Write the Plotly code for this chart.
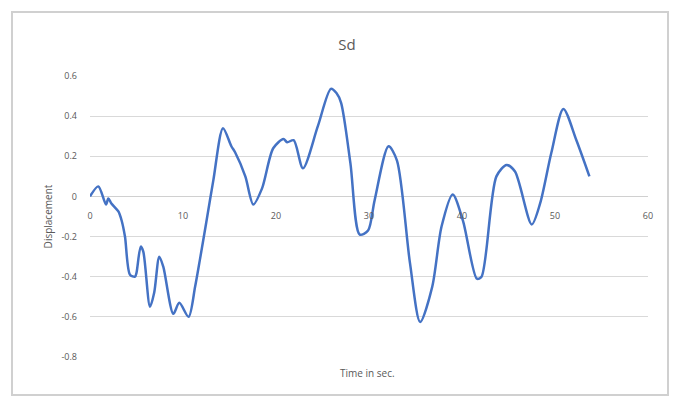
import plotly.graph_objects as go

time_s = [0, 0.9, 1.72, 1.97, 2.3, 3.05, 3.4, 3.76, 4.3, 4.84, 5.0, 5.45, 5.73, 6.45, 6.9,
          7.45, 7.88, 8.96, 9.6, 10.6, 11.3, 11.8, 12.5, 13.26, 14.3, 15.2, 15.6, 16.7,
          17.56, 18.5, 19.7, 20.8, 21.2, 21.9, 22.9, 24.5, 25.9, 26.5, 27.0, 28.0, 29.0,
          29.9, 30.6, 32.1, 33.0, 34.4, 35.5, 36.8, 37.8, 39.0, 40.1, 41.6, 42.1, 43.7,
          44.8, 45.7, 47.5, 48.4, 49.6, 50.9, 52.3, 53.7]
displacement = [0, 0.05, -0.04, -0.01, -0.035, -0.075, -0.12, -0.2, -0.39, -0.4, -0.38,
                -0.25, -0.275, -0.55, -0.48, -0.3, -0.35, -0.585, -0.53, -0.6, -0.45,
                -0.32, -0.13, 0.08, 0.34, 0.25, 0.22, 0.1, -0.04, 0.04, 0.24, 0.286, 0.27,
                0.28, 0.14, 0.35, 0.536, 0.515, 0.466, 0.166, -0.19, -0.17, -0.02, 0.25,
                0.18, -0.33, -0.626, -0.45, -0.15, 0.01, -0.12, -0.41, -0.4, 0.1, 0.157,
                0.124, -0.14, -0.035, 0.216, 0.436, 0.28, 0.1]

x_ticks = [0, 10, 20, 30, 40, 50, 60]
y_ticks = [-0.8, -0.6, -0.4, -0.2, 0, 0.2, 0.4, 0.6]
y_tick_labels = ["-0.8", "-0.6", "-0.4", "-0.2", "0", "0.2", "0.4", "0.6"]

font_family = "Liberation Sans Narrow, Open Sans, sans-serif"
gray = "#595959"

fig = go.Figure()
fig.add_trace(go.Scatter(
    x=time_s, y=displacement, mode="lines",
    line=dict(color="#4472C4", width=2.5, shape="spline", smoothing=0.8),
    showlegend=False,
))

fig.update_layout(
    width=672, height=397,
    margin=dict(l=82, r=32, t=68, b=48),
    paper_bgcolor="white", plot_bgcolor="white",
    title=dict(text="Sd", x=(347 - 8) / 672, xanchor="center", y=1 - (45 - 8) / 397,
               yanchor="middle", xref="container", yref="container",
               font=dict(family=font_family, size=15, color=gray)),
    xaxis=dict(
        range=[0, 60], tickvals=x_ticks, showgrid=False, zeroline=False,
        showline=False, anchor="free", position=(357 - 196) / 281,
        ticks="", ticklabelstandoff=13, automargin=False,
        tickfont=dict(family=font_family, size=9, color=gray),
    ),
    yaxis=dict(
        range=[-0.8, 0.6], tickvals=y_ticks, ticktext=y_tick_labels,
        showgrid=True, gridcolor="#d9d9d9", gridwidth=1, zeroline=True,
        zerolinecolor="#d0d0d0", zerolinewidth=1, showline=False, ticks="",
        ticklabelstandoff=12, automargin=False,
        tickfont=dict(family=font_family, size=9, color=gray),
        title=dict(text="Displacement", standoff=6,
                   font=dict(family=font_family, size=10, color=gray)),
    ),
    annotations=[dict(text="Time in sec.", xref="paper", yref="paper", x=0.497,
                      y=-0.025, xanchor="center", yanchor="top", showarrow=False,
                      font=dict(family=font_family, size=10, color=gray))],
    shapes=[dict(type="rect", xref="paper", yref="paper",
                 x0=(12 - 90) / 558, x1=(668 - 90) / 558,
                 y0=(357 - 395) / 281, y1=(357 - 12) / 281,
                 line=dict(color="#d0d0d0", width=2), layer="below")],
)

fig.write_html("out.html")
